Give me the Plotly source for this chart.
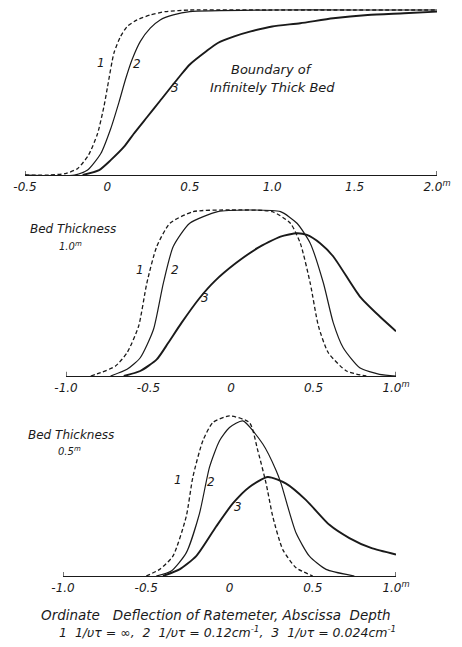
import plotly.graph_objects as go

# ---------------- data ----------------
# Panel A: boundary of infinitely thick bed
inf_x1 = [-0.5, -0.35, -0.25, -0.18, -0.115, -0.06, -0.02, 0.0, 0.04, 0.08, 0.12, 0.18, 0.26, 0.35, 0.5, 1.0, 1.5, 2.0]
inf_y1 = [0, 0, 0.01, 0.04, 0.12, 0.25, 0.42, 0.53, 0.74, 0.84, 0.9, 0.94, 0.97, 0.99, 1.0, 1.0, 1.0, 1.0]
inf_x2 = [-0.5, -0.2, -0.12, -0.04, 0.02, 0.07, 0.11, 0.15, 0.2, 0.26, 0.32, 0.4, 0.5, 1.0, 1.5, 2.0]
inf_y2 = [0, 0, 0.03, 0.13, 0.28, 0.44, 0.58, 0.7, 0.81, 0.89, 0.94, 0.97, 0.99, 1.0, 1.0, 1.0]
inf_x3 = [-0.15, -0.05, 0.02, 0.1, 0.16, 0.24, 0.32, 0.44, 0.5, 0.6, 0.67, 0.77, 0.87, 1.0, 1.17, 1.37, 1.58, 1.8, 2.0]
inf_y3 = [0, 0.03, 0.09, 0.17, 0.25, 0.35, 0.45, 0.6, 0.67, 0.75, 0.8, 0.84, 0.87, 0.9, 0.92, 0.95, 0.97, 0.98, 0.99]

# Panel B: bed thickness 1.0 m
b10_x1 = [-0.85, -0.79, -0.7, -0.63, -0.56, -0.51, -0.45, -0.37, -0.23, 0.0, 0.25, 0.36, 0.42, 0.48, 0.53, 0.59, 0.7, 0.82]
b10_y1 = [0, 0.02, 0.06, 0.14, 0.3, 0.56, 0.78, 0.92, 0.99, 1.0, 0.99, 0.92, 0.8, 0.56, 0.3, 0.14, 0.03, 0.0]
b10_x2 = [-0.73, -0.63, -0.55, -0.47, -0.41, -0.35, -0.25, -0.08, 0.1, 0.3, 0.4, 0.48, 0.56, 0.62, 0.68, 0.78, 0.9, 1.0]
b10_y2 = [0, 0.04, 0.11, 0.28, 0.56, 0.78, 0.92, 0.99, 1.0, 0.99, 0.92, 0.8, 0.56, 0.32, 0.17, 0.05, 0.01, 0.0]
b10_x3 = [-0.65, -0.55, -0.45, -0.38, -0.3, -0.19, -0.1, 0.03, 0.16, 0.3, 0.4, 0.46, 0.54, 0.62, 0.78, 0.9, 1.0]
b10_y3 = [0, 0.03, 0.1, 0.2, 0.32, 0.47, 0.57, 0.68, 0.77, 0.84, 0.86, 0.85, 0.8, 0.72, 0.48, 0.36, 0.27]

# Panel C: bed thickness 0.5 m
b05_x1 = [-0.5, -0.42, -0.34, -0.26, -0.22, -0.16, -0.1, 0.0, 0.12, 0.17, 0.22, 0.26, 0.32, 0.4, 0.5]
b05_y1 = [0, 0.04, 0.12, 0.36, 0.6, 0.82, 0.93, 0.97, 0.93, 0.76, 0.56, 0.36, 0.16, 0.05, 0.0]
b05_x2 = [-0.44, -0.35, -0.26, -0.18, -0.12, -0.06, 0.0, 0.08, 0.2, 0.28, 0.31, 0.35, 0.4, 0.48, 0.58, 0.75]
b05_y2 = [0, 0.03, 0.14, 0.38, 0.66, 0.82, 0.9, 0.94, 0.8, 0.64, 0.56, 0.42, 0.26, 0.12, 0.04, 0.0]
b05_x3 = [-0.4, -0.3, -0.2, -0.08, 0.02, 0.12, 0.23, 0.34, 0.46, 0.6, 0.72, 0.85, 1.0]
b05_y3 = [0, 0.04, 0.12, 0.3, 0.44, 0.54, 0.6, 0.56, 0.46, 0.31, 0.23, 0.17, 0.13]

inf_ticks = [-0.5, 0, 0.5, 1.0, 1.5, 2.0]
inf_ticktext = ["-0.5", "0", "0.5", "1.0", "1.5", "2.0<sup>m</sup>"]
b_ticks = [-1.0, -0.5, 0, 0.5, 1.0]
b_ticktext = ["-1.0", "-0.5", "0", "0.5", "1.0<sup>m</sup>"]

inf_range = [-0.5, 2.0]
b_range = [-1.0, 1.0]

# ---------------- figure ----------------
W, H = 462, 647
FONT = "DejaVu Sans"
INK = "#1a1a1a"

fig = go.Figure()

def px_dom_x(a, b):
    return [a / W, b / W]

def px_dom_y(bottom_py, top_py):
    return [(H - bottom_py) / H, (H - top_py) / H]

panels = [
    ("x", "y", [(inf_x1, inf_y1), (inf_x2, inf_y2), (inf_x3, inf_y3)], (25, 437), 175, 165, inf_range, inf_ticks, inf_ticktext),
    ("x2", "y2", [(b10_x1, b10_y1), (b10_x2, b10_y2), (b10_x3, b10_y3)], (66, 396), 376, 166, b_range, b_ticks, b_ticktext),
    ("x3", "y3", [(b05_x1, b05_y1), (b05_x2, b05_y2), (b05_x3, b05_y3)], (63, 396), 576, 165, b_range, b_ticks, b_ticktext),
]

styles = [
    dict(color=INK, width=1.3, dash="4px,2.5px"),
    dict(color=INK, width=1.2),
    dict(color=INK, width=1.9),
]

YTOP = 1.04
layout_axes = {}
shapes = []
for i, (xa, ya, curves, xdom, y0py, upx, xr, tv, tt) in enumerate(panels):
    for (cx, cy), st in zip(curves, styles):
        fig.add_trace(go.Scatter(x=cx, y=cy, mode="lines", line=dict(shape="spline", smoothing=0.6, **st),
                                 xaxis=xa, yaxis=ya, showlegend=False, hoverinfo="skip"))
    suffix = "" if i == 0 else str(i + 1)
    top_py = y0py - YTOP * upx
    layout_axes["xaxis" + suffix] = dict(
        domain=px_dom_x(*xdom), range=xr, anchor=ya, showgrid=False, zeroline=False,
        showline=True, linecolor=INK, linewidth=1.3, ticks="", automargin=False,
        tickvals=tv, ticktext=["<i>" + t + "</i>" for t in tt],
        tickfont=dict(family=FONT, size=12, color=INK), fixedrange=True,
    )
    layout_axes["yaxis" + suffix] = dict(
        domain=px_dom_y(y0py, top_py), range=[0, YTOP], anchor=xa, visible=False,
        fixedrange=True, automargin=False,
    )
    for xe in xr:
        shapes.append(dict(type="line", xref=xa, yref=ya, x0=xe, x1=xe, y0=0, y1=0.025,
                           line=dict(color=INK, width=1.2)))

def ann(text, x, y, xref, yref, size=12):
    return dict(text="<i>" + text + "</i>", x=x, y=y, xref=xref, yref=yref, showarrow=False,
                font=dict(family=FONT, size=size, color=INK), xanchor="center", yanchor="middle")

annotations = [
    ann("1", -0.04, 0.68, "x", "y", 12), ann("2", 0.18, 0.67, "x", "y", 12), ann("3", 0.41, 0.53, "x", "y", 12),
    ann("Boundary of", 1.0, 0.64, "x", "y", 13), ann("Infinitely Thick Bed", 1.0, 0.53, "x", "y", 13),
    ann("1", -0.55, 0.64, "x2", "y2", 12), ann("2", -0.34, 0.64, "x2", "y2", 12), ann("3", -0.16, 0.47, "x2", "y2", 12),
    ann("Bed Thickness", -0.96, 0.885, "x2", "y2", 12), ann("1.0<sup>m</sup>", -0.97, 0.785, "x2", "y2", 10),
    ann("1", -0.31, 0.58, "x3", "y3", 12), ann("2", -0.11, 0.57, "x3", "y3", 12), ann("3", 0.05, 0.42, "x3", "y3", 12),
    ann("Bed Thickness", -0.95, 0.855, "x3", "y3", 12), ann("0.5<sup>m</sup>", -0.96, 0.755, "x3", "y3", 10),
    ann("Ordinate&#160;&#160;&#160;Deflection of Ratemeter, Abscissa&#160;&#160;Depth", 216 / W, (H - 615) / H, "paper", "paper", 13.5),
    ann("1&#160;&#160;1/υτ = ∞,&#160;&#160;2&#160;&#160;1/υτ = 0.12cm<sup>-1</sup>,&#160;&#160;3&#160;&#160;1/υτ = 0.024cm<sup>-1</sup>",
        227 / W, (H - 632) / H, "paper", "paper", 12.5),
]

fig.update_layout(
    width=W, height=H, margin=dict(l=0, r=0, t=0, b=0, autoexpand=False),
    paper_bgcolor="white", plot_bgcolor="rgba(0,0,0,0)",
    annotations=annotations, shapes=shapes, **layout_axes,
)

fig.write_html("out.html", config={"displayModeBar": False, "responsive": False},
               post_script="document.body.style.margin='0';document.body.style.overflow='hidden';")
